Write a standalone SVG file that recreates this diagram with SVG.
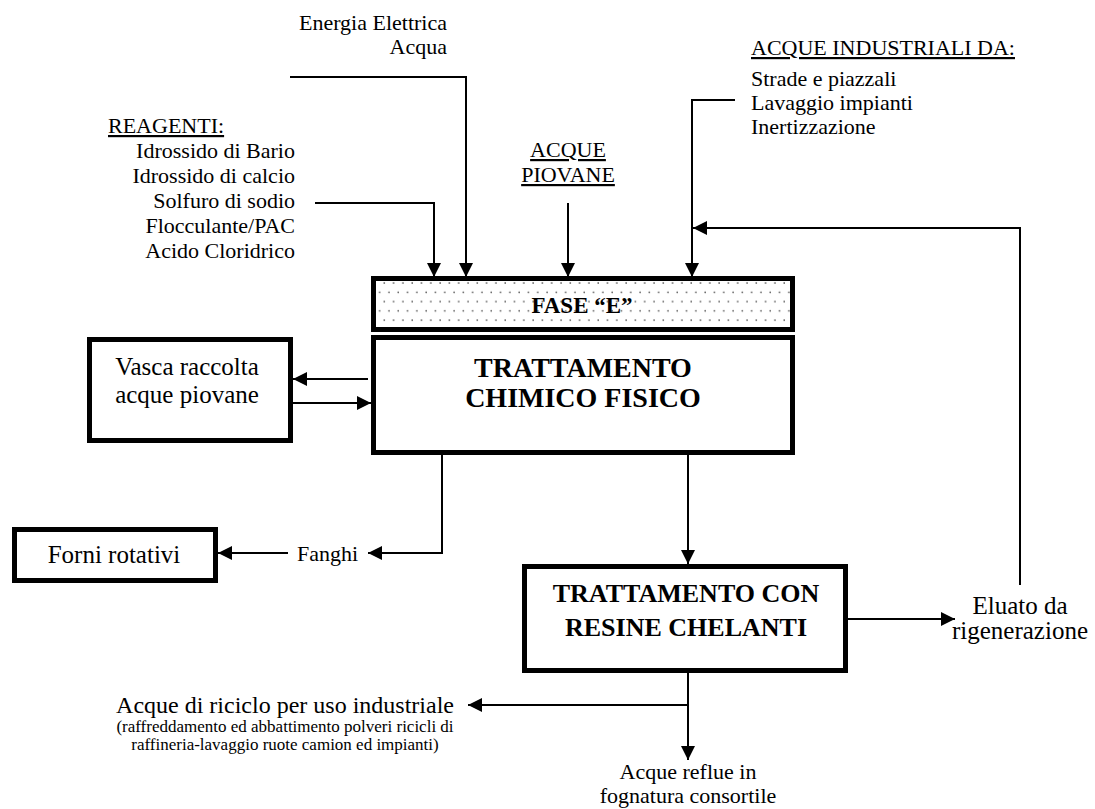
<svg xmlns="http://www.w3.org/2000/svg" width="1095" height="809" viewBox="0 0 1095 809" font-family="'Liberation Serif', 'Times New Roman', serif">
<defs>
<style>
text{font-family:'Liberation Serif','Times New Roman',serif;fill:#000}
.t22{font-size:22px}
.t24{font-size:24px}
.t25{font-size:25px}
.t17{font-size:17px}
.b28{font-size:28px;font-weight:bold}
.b26{font-size:26px;font-weight:bold}
.b23{font-size:23px;font-weight:bold}
.u{text-decoration:underline}
.box{fill:#fff;stroke:#000;stroke-width:5}
.ln{fill:none;stroke:#000;stroke-width:2}
.arr{marker-end:url(#ah)}
</style>
<marker id="ah" markerUnits="userSpaceOnUse" viewBox="0 0 14 14" markerWidth="14" markerHeight="14" refX="14" refY="7" orient="auto">
<path d="M0,0 L14,7 L0,14 z" fill="#000"/>
</marker>
<pattern id="dots" patternUnits="userSpaceOnUse" x="373" y="280" width="9.3" height="18.6">
<circle cx="2" cy="3" r="0.8" fill="#333"/>
<circle cx="6.65" cy="12.3" r="0.8" fill="#333"/>
</pattern>
</defs>

<!-- connectors -->
<g id="connectors">
<path class="ln arr" d="M290,77 H466 V277"/>
<path class="ln arr" d="M315,203 H434 V277"/>
<path class="ln arr" d="M568,203 V277"/>
<path class="ln arr" d="M735,100 H692 V277"/>
<path class="ln arr" d="M1020,585 V228 H693"/>
<path class="ln arr" d="M368,379 H293"/>
<path class="ln arr" d="M293,403 H371"/>
<path class="ln arr" d="M442,455 V553 H368"/>
<path class="ln arr" d="M288,553 H218"/>
<path class="ln arr" d="M688,455 V564"/>
<path class="ln arr" d="M848,619 H955"/>
<path class="ln arr" d="M688,673 V760"/>
<path class="ln arr" d="M688,705 H468"/>
</g>

<!-- inputs -->
<g id="energia">
<text class="t22" x="447" y="30" text-anchor="end">Energia Elettrica</text>
<text class="t22" x="447" y="54" text-anchor="end">Acqua</text>
</g>
<g id="reagenti">
<text class="t22 u" x="108" y="133">REAGENTI:</text>
<text class="t22" x="295" y="158" text-anchor="end">Idrossido di Bario</text>
<text class="t22" x="295" y="183" text-anchor="end">Idrossido di calcio</text>
<text class="t22" x="295" y="208" text-anchor="end">Solfuro di sodio</text>
<text class="t22" x="295" y="233" text-anchor="end">Flocculante/PAC</text>
<text class="t22" x="295" y="258" text-anchor="end">Acido Cloridrico</text>
</g>
<g id="piovane">
<text class="t22 u" x="568" y="157" text-anchor="middle">ACQUE</text>
<text class="t22 u" x="568" y="182" text-anchor="middle">PIOVANE</text>
</g>
<g id="industriali">
<text class="t22 u" x="751" y="55">ACQUE INDUSTRIALI DA:</text>
<text class="t22" x="751" y="86">Strade e piazzali</text>
<text class="t22" x="751" y="110">Lavaggio impianti</text>
<text class="t22" x="751" y="134">Inertizzazione</text>
</g>

<!-- process blocks -->
<g id="fase-e">
<rect class="box" x="373.5" y="278.5" width="419" height="51" style="fill:url(#dots)"/>
<text class="b23" x="582" y="313" text-anchor="middle">FASE “E”</text>
</g>
<g id="chimico-fisico">
<rect class="box" x="373.5" y="337.5" width="419" height="115"/>
<text class="b28" x="583" y="377" text-anchor="middle">TRATTAMENTO</text>
<text class="b28" x="583" y="407" text-anchor="middle">CHIMICO FISICO</text>
</g>
<g id="vasca">
<rect class="box" x="89.5" y="339.5" width="201" height="101"/>
<text class="t25" x="187" y="375" text-anchor="middle">Vasca raccolta</text>
<text class="t25" x="187" y="403" text-anchor="middle">acque piovane</text>
</g>
<g id="forni">
<rect class="box" x="14.5" y="529.5" width="201" height="51"/>
<text class="t25" x="114" y="563" text-anchor="middle">Forni rotativi</text>
</g>
<g id="fanghi">
<text class="t22" x="297" y="561">Fanghi</text>
</g>
<g id="resine">
<rect class="box" x="524.5" y="566.5" width="321" height="104"/>
<text class="b26" x="686" y="602" text-anchor="middle">TRATTAMENTO CON</text>
<text class="b26" x="686" y="636" text-anchor="middle">RESINE CHELANTI</text>
</g>
<g id="eluato">
<text class="t25" x="1020" y="614" text-anchor="middle">Eluato da</text>
<text class="t25" x="1020" y="639" text-anchor="middle">rigenerazione</text>
</g>
<g id="riciclo">
<text class="t24" x="285" y="713" text-anchor="middle">Acque di riciclo per uso industriale</text>
<text class="t17" x="285" y="732" text-anchor="middle">(raffreddamento ed abbattimento polveri ricicli di</text>
<text class="t17" x="285" y="750" text-anchor="middle">raffineria-lavaggio ruote camion ed impianti)</text>
</g>
<g id="reflue">
<text class="t22" x="688" y="779" text-anchor="middle">Acque reflue in</text>
<text class="t22" x="688" y="803" text-anchor="middle">fognatura consortile</text>
</g>
</svg>
